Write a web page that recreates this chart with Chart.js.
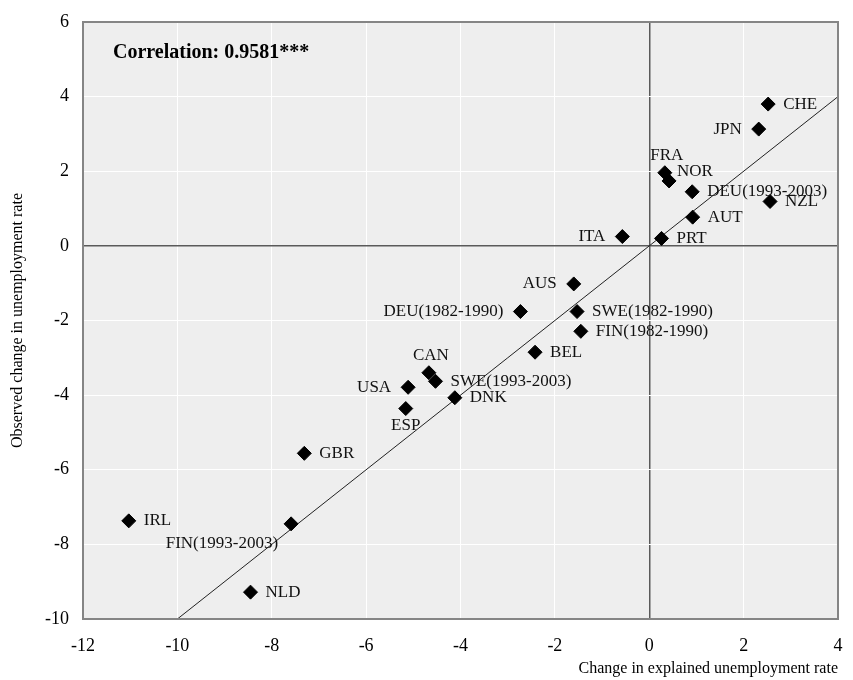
<!DOCTYPE html>
<html>
<head>
<meta charset="utf-8">
<script src="https://cdn.jsdelivr.net/npm/chart.js@4"></script>
<style>
  html, body { margin: 0; padding: 0; background: #fff; overflow: hidden; }
  canvas { display: block; }
</style>
</head>
<body>
<canvas id="myChart" width="853" height="680"></canvas>
<script>
'use strict';

// values
let countries = ['CHE', 'JPN', 'FRA', 'NOR', 'DEU(1993-2003)', 'NZL', 'AUT', 'PRT', 'ITA',
  'AUS', 'DEU(1982-1990)', 'SWE(1982-1990)', 'FIN(1982-1990)', 'BEL', 'CAN', 'SWE(1993-2003)',
  'USA', 'DNK', 'ESP', 'GBR', 'IRL', 'FIN(1993-2003)', 'NLD'];
let explained = [2.52, 2.32, 0.33, 0.42, 0.91, 2.56, 0.92, 0.26, -0.57,
  -1.60, -2.73, -1.53, -1.45, -2.42, -4.67, -4.53,
  -5.11, -4.12, -5.16, -7.31, -11.03, -7.59, -8.45];
let observed = [3.80, 3.13, 1.96, 1.74, 1.45, 1.19, 0.77, 0.20, 0.25,
  -1.02, -1.76, -1.76, -2.29, -2.85, -3.40, -3.63,
  -3.79, -4.07, -4.36, -5.56, -7.37, -7.45, -9.28];
// where each label sits: r = right, l = left, a = above, b = below, bl = below-left, ur = up-right
let labelSide = ['r', 'l', 'a', 'ur', 'r', 'r', 'r', 'r', 'l',
  'l', 'l', 'r', 'r', 'r', 'a', 'r',
  'l', 'r', 'b', 'r', 'r', 'bl', 'r'];

// 45 degree line
let lineX = [-10, 4];
let lineY = [-10, 4];

let xMin = -12, xMax = 4, yMin = -10, yMax = 6, step = 2;
let corrText = 'Correlation: 0.9581***';
let xTitle = 'Change in explained unemployment rate';
let yTitle = 'Observed change in unemployment rate';

let serif = '"Liberation Serif", "Times New Roman", serif';

let points = [];
for (let i = 0; i < countries.length; i++) {
  points.push({ x: explained[i], y: observed[i] });
}
let linePts = [];
for (let i = 0; i < lineX.length; i++) {
  linePts.push({ x: lineX[i], y: lineY[i] });
}

let decoPlugin = {
  id: 'deco',
  beforeDraw(chart) {
    let a = chart.chartArea;
    let ctx = chart.ctx;
    ctx.save();
    ctx.fillStyle = '#eeeeee';
    ctx.fillRect(a.left, a.top, a.right - a.left, a.bottom - a.top);
    ctx.restore();
  },
  afterDatasetsDraw(chart) {
    let ctx = chart.ctx;
    let meta = chart.getDatasetMeta(1);
    ctx.save();
    ctx.font = '17px ' + serif;
    ctx.fillStyle = '#111';
    for (let i = 0; i < countries.length; i++) {
      let p = meta.data[i];
      let side = labelSide[i];
      let tx = p.x, ty = p.y;
      ctx.textBaseline = 'middle';
      if (side === 'r') { ctx.textAlign = 'left'; tx = p.x + 15; }
      else if (side === 'l') { ctx.textAlign = 'right'; tx = p.x - 17; }
      else if (side === 'a') { ctx.textAlign = 'center'; tx = p.x + 2; ty = p.y - 17; }
      else if (side === 'b') { ctx.textAlign = 'center'; ty = p.y + 17; }
      else if (side === 'bl') { ctx.textAlign = 'right'; tx = p.x - 13; ty = p.y + 20; }
      else if (side === 'ur') { ctx.textAlign = 'left'; tx = p.x + 8; ty = p.y - 9; }
      ctx.fillText(countries[i], tx, ty);
    }
    ctx.restore();
  },
  afterDraw(chart) {
    let a = chart.chartArea;
    let ctx = chart.ctx;
    ctx.save();
    ctx.strokeStyle = '#858585';
    ctx.lineWidth = 2;
    ctx.strokeRect(a.left, a.top, a.right - a.left, a.bottom - a.top);
    ctx.font = 'bold 20px ' + serif;
    ctx.fillStyle = '#000';
    ctx.textAlign = 'left';
    ctx.textBaseline = 'alphabetic';
    ctx.fillText(corrText, a.left + 30, a.top + 36);
    ctx.restore();
  }
};

function gridColor(c) {
  return c.tick && c.tick.value === 0 ? '#5a5a5a' : '#ffffff';
}
function gridWidth(c) {
  return c.tick && c.tick.value === 0 ? 1.5 : 1;
}

let ctx = document.getElementById('myChart').getContext('2d');
let chart = new Chart(ctx, {
  type: 'scatter',
  data: {
    datasets: [{
      type: 'line',
      data: linePts,
      borderColor: '#222',
      borderWidth: 1,
      pointRadius: 0,
      fill: false,
      order: 2
    }, {
      data: points,
      pointStyle: 'rectRot',
      pointRadius: 7,
      backgroundColor: '#000',
      borderColor: '#000',
      borderWidth: 1,
      order: 1
    }]
  },
  options: {
    responsive: false,
    animation: false,
    layout: { padding: { top: 22, right: 15, left: 0, bottom: 0 } },
    plugins: { legend: { display: false }, tooltip: { enabled: false } },
    scales: {
      x: {
        type: 'linear',
        min: xMin,
        max: xMax,
        ticks: { stepSize: step, color: '#000', font: { family: serif, size: 18 }, padding: 16 },
        grid: { color: gridColor, lineWidth: gridWidth, drawTicks: false },
        border: { display: false },
        title: { display: true, text: xTitle, align: 'end', color: '#000',
          font: { family: serif, size: 16 }, padding: { top: 0, bottom: 2 } },
        afterFit(scale) {
          scale.height = 61;
          scale.paddingLeft = 0;
          scale.paddingRight = 0;
        }
      },
      y: {
        type: 'linear',
        min: yMin,
        max: yMax,
        ticks: { stepSize: step, color: '#000', font: { family: serif, size: 18 }, padding: 14 },
        grid: { color: gridColor, lineWidth: gridWidth, drawTicks: false },
        border: { display: false },
        title: { display: true, text: yTitle, color: '#000',
          font: { family: serif, size: 16 }, padding: { top: 8, bottom: 0 } },
        afterFit(scale) {
          scale.width = 83;
          scale.paddingTop = 0;
          scale.paddingBottom = 0;
        }
      }
    }
  },
  plugins: [decoPlugin]
});
</script>
</body>
</html>
